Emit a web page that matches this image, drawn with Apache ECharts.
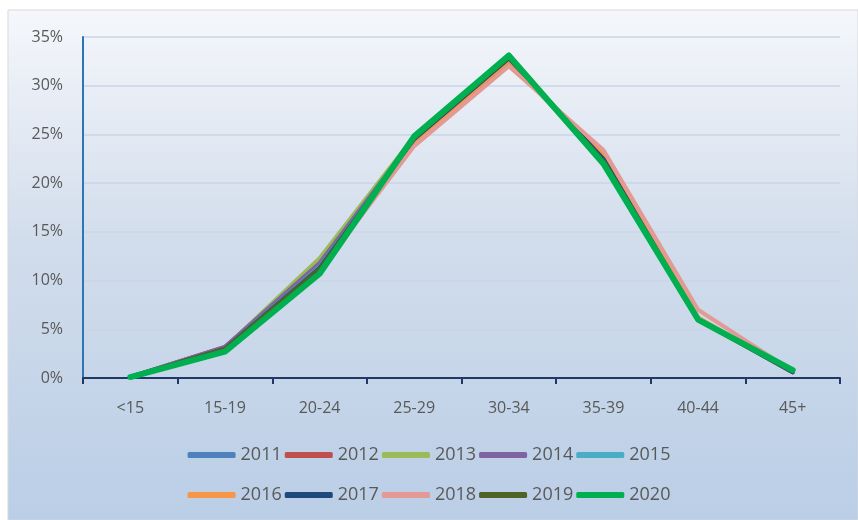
<!DOCTYPE html>
<html>
<head>
<meta charset="utf-8">
<script src="https://cdn.jsdelivr.net/npm/echarts@6/dist/echarts.min.js"></script>
<style>
  html, body { margin: 0; padding: 0; background: #ffffff; }
  #chart { width: 858px; height: 520px; }
</style>
</head>
<body>
<div id="chart"></div>
<script>
// Age groups on the x axis
const ageGroups = ['<15', '15-19', '20-24', '25-29', '30-34', '35-39', '40-44', '45+'];

// Share of each age group per year (%)
const y2011 = [0.1, 3.1, 11.5, 24.5, 32.6, 22.6, 6.0, 0.6];
const y2012 = [0.1, 3.2, 11.2, 24.3, 32.5, 22.8, 6.1, 0.6];
const y2013 = [0.1, 3.1, 12.3, 24.8, 32.5, 22.4, 5.9, 0.6];
const y2014 = [0.1, 3.2, 11.8, 24.6, 32.6, 22.5, 6.0, 0.6];
const y2015 = [0.1, 3.0, 11.4, 24.4, 32.7, 22.6, 6.1, 0.6];
const y2016 = [0.1, 2.8, 11.0, 24.2, 32.6, 22.8, 6.2, 0.6];
const y2017 = [0.1, 3.0, 11.3, 24.5, 32.8, 22.5, 6.0, 0.6];
const y2018 = [0.1, 2.9, 11.0, 23.8, 32.0, 23.4, 7.0, 0.7];
const y2019 = [0.1, 3.0, 11.2, 24.6, 32.9, 22.3, 6.0, 0.7];
const y2020 = [0.1, 2.7, 10.7, 24.8, 33.1, 22.0, 6.0, 0.8];

const years = ['2011', '2012', '2013', '2014', '2015', '2016', '2017', '2018', '2019', '2020'];
const yearData = [y2011, y2012, y2013, y2014, y2015, y2016, y2017, y2018, y2019, y2020];
const yearColors = ['#4f81bd', '#c0504d', '#9bbb59', '#8064a2', '#4bacc6',
                    '#f79646', '#1f497d', '#e39a94', '#4f6228', '#00b050'];

// Y axis tick values (%)
const yMin = 0, yMax = 35, yStep = 5;

const chart = echarts.init(document.getElementById('chart'), null, { renderer: 'canvas' });

const series = years.map((y, i) => ({
  name: y,
  type: 'line',
  data: yearData[i],
  symbol: 'none',
  smooth: false,
  z: 2 + i,
  lineStyle: { color: yearColors[i], width: y === '2020' ? 6 : 4, cap: 'round', join: 'round' },
  itemStyle: { color: yearColors[i] }
}));

const labelFont = 'Open Sans, Noto Sans, sans-serif';
const legendText = { color: '#595959', fontSize: 18, fontFamily: labelFont };

const option = {
  backgroundColor: '#ffffff',
  animation: false,
  graphic: [{
    type: 'rect',
    z: -10,
    silent: true,
    shape: { x: 8, y: 10, width: 850, height: 510 },
    style: {
      fill: new echarts.graphic.LinearGradient(0, 0, 0, 1, [
        { offset: 0, color: '#f5f7fb' },
        { offset: 0.45, color: '#d2ddec' },
        { offset: 1, color: '#bacee6' }
      ]),
      stroke: '#d9d9d9',
      lineWidth: 1
    }
  }],
  grid: { left: 83, right: 18, top: 37, bottom: 142 },
  legend: [
    {
      data: years.slice(0, 5),
      top: 441,
      left: 'center',
      itemWidth: 48,
      itemHeight: 6,
      itemGap: 3,
      icon: 'roundRect',
      textStyle: legendText
    },
    {
      data: years.slice(5),
      top: 481,
      left: 'center',
      itemWidth: 48,
      itemHeight: 6,
      itemGap: 3,
      icon: 'roundRect',
      textStyle: legendText
    }
  ],
  xAxis: {
    type: 'category',
    data: ageGroups,
    boundaryGap: true,
    axisLine: { lineStyle: { color: '#1f3864', width: 2 } },
    axisTick: { show: true, length: 6, lineStyle: { color: '#1f3864', width: 2 } },
    axisLabel: { color: '#595959', fontSize: 16, margin: 22, fontFamily: labelFont },
    splitLine: { show: false }
  },
  yAxis: {
    type: 'value',
    min: yMin,
    max: yMax,
    interval: yStep,
    axisLine: { show: true, lineStyle: { color: '#2e75b6', width: 2 } },
    axisTick: { show: false },
    axisLabel: { formatter: '{value}%', color: '#595959', fontSize: 16, margin: 20, fontFamily: labelFont },
    splitLine: { lineStyle: { color: '#c9d6e6', width: 1.5 } }
  },
  series: series
};

chart.setOption(option);
</script>
</body>
</html>
